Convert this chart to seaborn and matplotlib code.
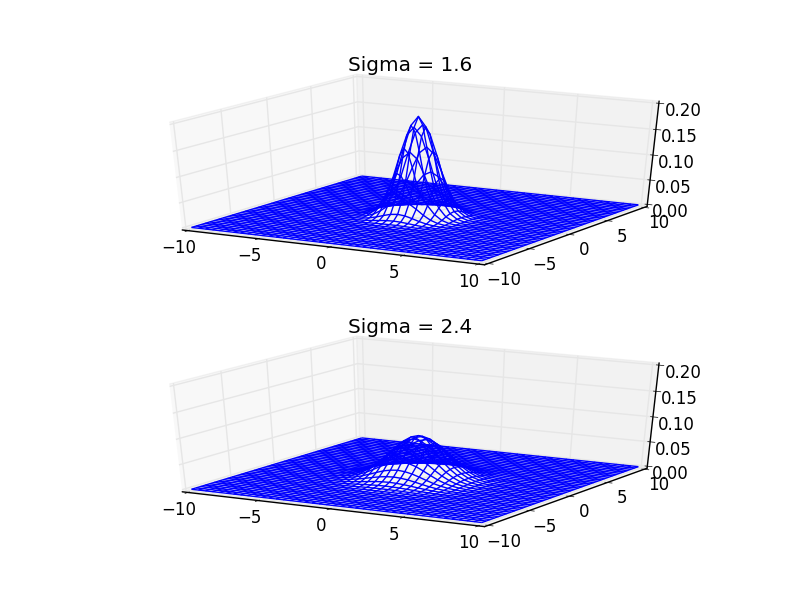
import numpy as np
import matplotlib
matplotlib.use("Agg")
import matplotlib.pyplot as plt
import seaborn as sns
from mpl_toolkits.mplot3d import Axes3D  # noqa: F401

titles = ["Sigma = 1.6", "Sigma = 2.4"]
grid_x = np.arange(-10, 10.5, 0.5)
x_ticks = [-10, -5, 0, 5, 10]
y_ticks = [-10, -5, 0, 5, 10]
z_ticks = [0.00, 0.05, 0.10, 0.15, 0.20]
z_labels = ["0.00", "0.05", "0.10", "0.15", "0.20"]

# Heights: section through the peak, at offsets
# 0, 0.5, 1.0, ... from the centre (the surface is symmetric about the centre).
section_top = [0.195, 0.177, 0.132, 0.081, 0.041, 0.017, 0.006, 0.0016, 0.0004, 0.0]
section_bottom = [0.085, 0.081, 0.072, 0.058, 0.043, 0.029, 0.018, 0.010, 0.0052,
                  0.0025, 0.0011, 0.0004, 0.0002, 0.0]


def surface(section):
    s = np.zeros(21)
    s[:len(section)] = section
    full = np.concatenate([s[:0:-1], s])
    return np.outer(full, full) / section[0]


sns.set_theme(style="white", rc={
    "font.family": "DejaVu Sans",
    "font.size": 12,
    "axes.titlesize": 14.4,
    "xtick.labelsize": 12,
    "ytick.labelsize": 12,
    "axes.linewidth": 1,
    "text.color": "black",
    "xtick.color": "black",
    "ytick.color": "black",
    "xtick.major.width": 0.5,
    "ytick.major.width": 0.5,
    "xtick.minor.width": 0.5,
    "ytick.minor.width": 0.5,
    "axes.edgecolor": "black",
    "lines.linewidth": 1,
    "figure.subplot.top": 0.9,
    "figure.subplot.bottom": 0.1,
    "figure.subplot.left": 0.125,
    "figure.subplot.right": 0.9,
    "figure.subplot.hspace": 0.2,
})
blue = sns.color_palette(["#0000ff"])[0]

fig = plt.figure(figsize=(8, 6), dpi=100)
fig.patch.set_facecolor("white")
X, Y = np.meshgrid(grid_x, grid_x)

for i, (title, section) in enumerate(zip(titles, [section_top, section_bottom])):
    ax = fig.add_subplot(2, 1, i + 1, projection="3d")
    ax.apply_aspect = lambda position=None: None
    ax.set_box_aspect((1, 1, 1), zoom=np.sqrt(3) / 1.8294640721620434)
    ax.set_position(ax.get_subplotspec().get_position(fig))
    ax.plot_wireframe(X, Y, surface(section), rstride=1, cstride=1, color=blue, linewidth=1)
    ax.set_xlim(-10, 10, view_margin=1 / 48)
    ax.set_ylim(-10, 10, view_margin=1 / 48)
    ax.set_zlim(0, 0.2, view_margin=1 / 48)
    ax.set_xticks(x_ticks)
    ax.set_yticks(y_ticks)
    ax.set_zticks(z_ticks)
    ax.set_zticklabels(z_labels)
    ax.set_title(title, y=0.99)
    ax.patch.set_alpha(0)
    for axis in (ax.xaxis, ax.yaxis, ax.zaxis):
        axis._axinfo["grid"].update(color=(0.9, 0.9, 0.9, 1), linewidth=1)
        axis._axinfo["tick"].update(inward_factor=0.2, outward_factor=0.1)
        axis.set_pane_color({"x": (0.95, 0.95, 0.95, 0.5),
                             "y": (0.9, 0.9, 0.9, 0.5),
                             "z": (0.925, 0.925, 0.925, 0.5)}[axis.axis_name])
        axis.pane.set_edgecolor((0.9, 0.9, 0.9, 0.5))
        axis.line.set_color("black")
        axis.line.set_linewidth(1)
    ax.tick_params(axis="both", labelsize=12, pad=0)

fig.savefig("out.png", dpi=100)
